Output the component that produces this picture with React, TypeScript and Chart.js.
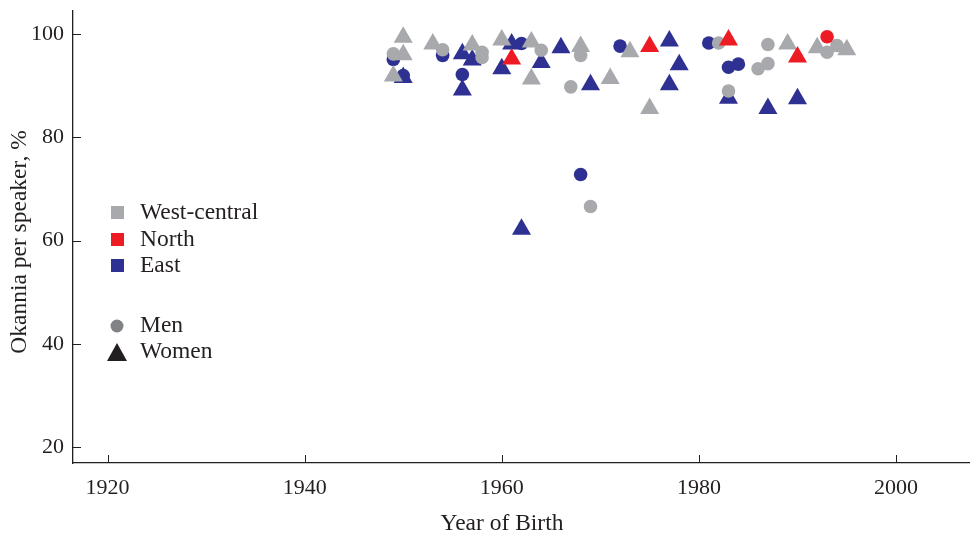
import React, { useEffect, useRef } from "react";
import { Chart, registerables } from "chart.js";

Chart.register(...registerables);

// ---- Data (Year of birth, Okannia per speaker %) ----
const westMenYears = [1949, 1954, 1958, 1958, 1964, 1967, 1968, 1969, 1982, 1983, 1986, 1987, 1987, 1993, 1994];
const westMenValues = [96.2, 97.0, 96.5, 95.5, 96.9, 89.8, 95.9, 66.6, 98.3, 89.0, 93.3, 94.3, 98.0, 96.5, 97.8];

const westWomenYears = [1950, 1950, 1949, 1953, 1957, 1960, 1963, 1963, 1968, 1971, 1973, 1975, 1989, 1992, 1995];
const westWomenValues = [99.4, 96.0, 91.9, 98.1, 97.9, 98.9, 98.5, 91.3, 97.6, 91.4, 96.6, 85.6, 98.1, 97.4, 97.0];

const northMenYears = [1993];
const northMenValues = [99.5];

const northWomenYears = [1961, 1975, 1983, 1990];
const northWomenValues = [95.2, 97.6, 98.9, 95.6];

const eastMenYears = [1949, 1950, 1954, 1956, 1962, 1968, 1972, 1981, 1983, 1984];
const eastMenValues = [95.1, 92.0, 95.9, 92.2, 98.2, 72.8, 97.7, 98.3, 93.6, 94.2];

const eastWomenYears = [1950, 1956, 1956, 1957, 1960, 1961, 1962, 1964, 1966, 1969, 1977, 1978, 1977, 1983, 1987, 1990];
const eastWomenValues = [91.6, 96.2, 89.2, 95.0, 93.3, 98.1, 62.2, 94.5, 97.4, 90.2, 98.7, 94.1, 90.2, 87.6, 85.6, 87.5];

const xTicks = [1920, 1940, 1960, 1980, 2000];
const yTicks = [20, 40, 60, 80, 100];

const regionLabels = ["West-central", "North", "East"];
const sexLabels = ["Men", "Women"];
const xTitle = "Year of Birth";
const yTitle = "Okannia per speaker, %";

const GRAY = "#a7a9ac";
const RED = "#ed1c24";
const BLUE = "#2e3192";
const TEXT = "#231f20";
const FONT = "'Liberation Serif', 'Times New Roman', serif";

function pts(xs: number[], ys: number[]) {
  return xs.map((x, i) => ({ x, y: ys[i] }));
}

const decorPlugin = {
  id: "decor",
  afterDraw(chart: any) {
    const ctx = chart.ctx;
    const xs = chart.scales.x;
    const ys = chart.scales.y;
    const area = chart.chartArea;
    ctx.save();
    // inward ticks
    ctx.strokeStyle = TEXT;
    ctx.lineWidth = 1;
    ctx.beginPath();
    xTicks.forEach((t) => {
      const px = Math.round(xs.getPixelForValue(t)) + 0.5;
      ctx.moveTo(px, area.bottom);
      ctx.lineTo(px, area.bottom - 8);
    });
    yTicks.forEach((t) => {
      const py = Math.round(ys.getPixelForValue(t)) + 0.5;
      ctx.moveTo(area.left, py);
      ctx.lineTo(area.left + 8, py);
    });
    ctx.stroke();

    // axis titles
    ctx.fillStyle = TEXT;
    ctx.font = `23.5px ${FONT}`;
    ctx.textAlign = "center";
    ctx.textBaseline = "middle";
    ctx.fillText(xTitle, 502, 524);
    ctx.save();
    ctx.translate(20, 242);
    ctx.rotate(-Math.PI / 2);
    ctx.fillText(yTitle, 0, 0);
    ctx.restore();

    // legend
    const colors = [GRAY, RED, BLUE];
    const rowY = [212, 239, 265];
    ctx.textAlign = "left";
    regionLabels.forEach((lab, i) => {
      ctx.fillStyle = colors[i];
      ctx.fillRect(111, rowY[i] - 6, 13, 13);
      ctx.fillStyle = TEXT;
      ctx.fillText(lab, 140, rowY[i] + 1);
    });
    // Men
    ctx.fillStyle = "#808285";
    ctx.beginPath();
    ctx.arc(117, 326, 6.5, 0, Math.PI * 2);
    ctx.fill();
    ctx.fillStyle = TEXT;
    ctx.fillText(sexLabels[0], 140, 326);
    // Women
    ctx.fillStyle = TEXT;
    ctx.beginPath();
    ctx.moveTo(117, 343);
    ctx.lineTo(127, 361);
    ctx.lineTo(107, 361);
    ctx.closePath();
    ctx.fill();
    ctx.fillText(sexLabels[1], 140, 352);
    ctx.restore();
  },
};

export default function App() {
  const ref = useRef<HTMLCanvasElement | null>(null);
  useEffect(() => {
    if (!ref.current) return;
    const circle = { pointStyle: "circle", pointRadius: 6.8 };
    const tri = { pointStyle: "triangle", pointRadius: 11 };
    const chart = new Chart(ref.current, {
      type: "scatter",
      data: {
        datasets: [
          { label: "North men", data: pts(northMenYears, northMenValues), backgroundColor: RED, borderColor: RED, borderWidth: 0, ...circle },
          { label: "North women", data: pts(northWomenYears, northWomenValues), backgroundColor: RED, borderColor: RED, borderWidth: 0, ...tri },
          { label: "West-central men", data: pts(westMenYears, westMenValues), backgroundColor: GRAY, borderColor: GRAY, borderWidth: 0, ...circle },
          { label: "West-central women", data: pts(westWomenYears, westWomenValues), backgroundColor: GRAY, borderColor: GRAY, borderWidth: 0, ...tri },
          { label: "East men", data: pts(eastMenYears, eastMenValues), backgroundColor: BLUE, borderColor: BLUE, borderWidth: 0, ...circle },
          { label: "East women", data: pts(eastWomenYears, eastWomenValues), backgroundColor: BLUE, borderColor: BLUE, borderWidth: 0, ...tri },
        ] as any,
      },
      options: {
        animation: false,
        responsive: false,
        devicePixelRatio: 1,
        layout: { autoPadding: false, padding: { top: 11, right: 0, left: 0, bottom: 0 } },
        plugins: { legend: { display: false }, tooltip: { enabled: false } },
        scales: {
          x: {
            type: "linear",
            min: 1916.5,
            max: 2007.5,
            afterBuildTicks: (s: any) => {
              s.ticks = xTicks.map((v) => ({ value: v }));
            },
            afterFit: (s: any) => {
              s.height = 71;
              s.paddingLeft = 0;
              s.paddingRight = 0;
            },
            grid: { display: false, drawTicks: false },
            border: { display: true, color: TEXT, width: 1.3 },
            ticks: {
              padding: 12,
              color: TEXT,
              font: { family: FONT, size: 22 },
              maxRotation: 0,
              autoSkip: false,
              callback: (v: any) => String(v),
            },
          },
          y: {
            type: "linear",
            min: 16.9,
            max: 104.5,
            afterBuildTicks: (s: any) => {
              s.ticks = yTicks.map((v) => ({ value: v }));
            },
            afterFit: (s: any) => {
              s.width = 73;
              s.paddingTop = 0;
              s.paddingBottom = 0;
              s.paddingLeft = 0;
              s.paddingRight = 0;
            },
            grid: { display: false, drawTicks: false },
            border: { display: true, color: TEXT, width: 1.3 },
            ticks: {
              padding: 9,
              color: TEXT,
              font: { family: FONT, size: 22 },
              autoSkip: false,
              callback: (v: any) => String(v),
            },
          },
        },
      } as any,
      plugins: [decorPlugin],
    });
    return () => chart.destroy();
  }, []);
  return (
    <div style={{ position: "fixed", left: 0, top: 0, width: 970, height: 534, background: "#fff" }}>
      <canvas ref={ref} width={970} height={534} style={{ display: "block", width: 970, height: 534 }} />
    </div>
  );
}
